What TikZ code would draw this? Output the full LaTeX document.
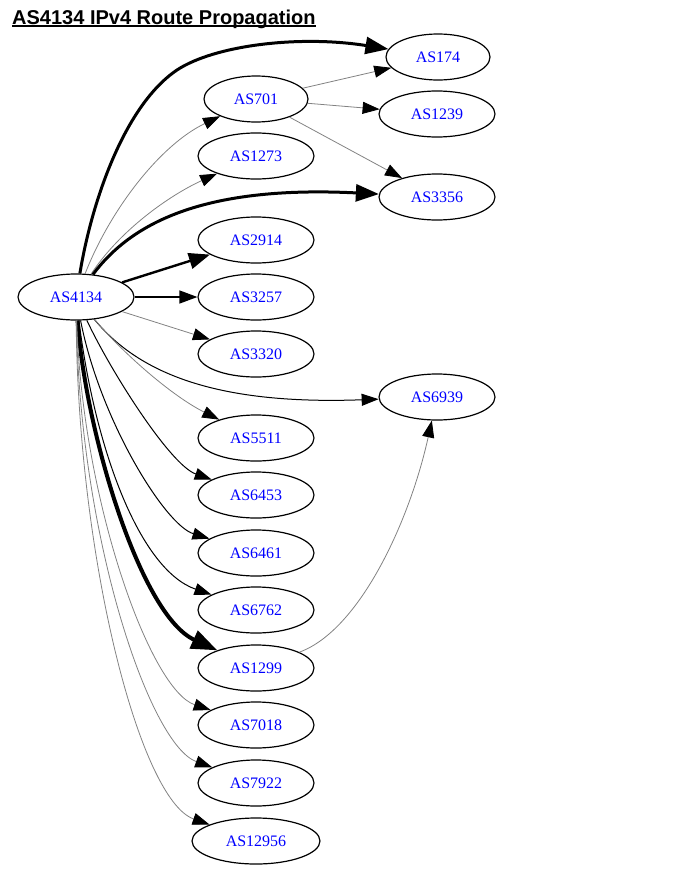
\documentclass[tikz,border=0pt]{standalone}
\usepackage{fontspec}
\setmainfont{Liberation Serif}
\newfontfamily\titlefont{Liberation Sans}
\usetikzlibrary{shapes.geometric,arrows.meta}
\definecolor{asblue}{RGB}{0,0,255}
\definecolor{edgegray}{RGB}{130,130,130}
\tikzset{
  asnode/.style={draw=black, line width=1.2bp, ellipse, inner sep=0pt,
    minimum height=46bp, minimum width=116bp, text=asblue,
    font=\fontsize{16bp}{18bp}\selectfont},
  narrow/.style={minimum width=104bp},
  wide/.style={minimum width=128bp},
  gedge/.style={draw=edgegray, line width=0.8bp,
    -{Triangle[length=17bp,width=12bp,color=black]}},
  bedge/.style={draw=black, line width=1bp,
    -{Triangle[length=17bp,width=12bp]}},
  medge/.style={draw=black, line width=1.4bp,
    -{Triangle[length=18bp,width=13bp]}},
  tedge/.style={draw=black, line width=2.4bp,
    -{Triangle[length=21bp,width=16bp]}},
  hedge/.style={draw=black, line width=3bp,
    -{Triangle[length=23bp,width=17bp]}},
  xedge/.style={draw=black, line width=4bp,
    -{Triangle[length=26bp,width=19bp]}},
}
\begin{document}
\begin{tikzpicture}[x=1bp,y=-1bp]
\useasboundingbox (0,0) rectangle (687,880);
% title
\node[anchor=base west, inner sep=0pt] (title) at (12,24)
  {\titlefont\bfseries\fontsize{20bp}{24bp}\selectfont AS4134 IPv4 Route Propagation};
\draw[line width=1.8bp] ([yshift=-1.8bp]title.base west) -- ([yshift=-1.8bp]title.base east);
% nodes
\node[asnode] (n4134) at (76,297) {AS4134};
\node[asnode,narrow] (n701) at (256,99) {AS701};
\node[asnode,narrow] (n174) at (438,57) {AS174};
\node[asnode] (n1239) at (437,114) {AS1239};
\node[asnode] (n1273) at (256,156) {AS1273};
\node[asnode] (n3356) at (437,197) {AS3356};
\node[asnode] (n2914) at (256,240) {AS2914};
\node[asnode] (n3257) at (256,297) {AS3257};
\node[asnode] (n3320) at (256,354) {AS3320};
\node[asnode] (n6939) at (437,397) {AS6939};
\node[asnode] (n5511) at (256,438) {AS5511};
\node[asnode] (n6453) at (256,495) {AS6453};
\node[asnode] (n6461) at (256,553) {AS6461};
\node[asnode] (n6762) at (256,610) {AS6762};
\node[asnode] (n1299) at (256,668) {AS1299};
\node[asnode] (n7018) at (256,725) {AS7018};
\node[asnode] (n7922) at (256,783) {AS7922};
\node[asnode,wide] (n12956) at (256,841) {AS12956};
% edges from AS4134
\draw[hedge] (n4134) .. controls (92,200) and (125,105) .. (177,70)
  .. controls (215,45) and (300,35) .. (n174);
\draw[gedge] (n4134) .. controls (110,210) and (160,145) .. (n701);
\draw[gedge] (n4134) .. controls (120,230) and (170,195) .. (n1273);
\draw[hedge] (n4134) .. controls (130,225) and (200,185) .. (n3356);
\draw[tedge] (n4134) -- (n2914);
\draw[medge] (n4134) -- (n3257);
\draw[gedge] (n4134) -- (n3320);
\draw[bedge] (n4134) .. controls (140,375) and (220,405) .. (n6939);
\draw[gedge] (n4134) .. controls (120,350) and (170,395) .. (n5511);
\draw[bedge] (n4134) .. controls (110,370) and (170,465) .. (n6453);
\draw[bedge] (n4134) .. controls (100,420) and (165,525) .. (n6461);
\draw[bedge] (n4134) .. controls (95,450) and (140,570) .. (n6762);
\draw[xedge] (n4134) .. controls (85,430) and (140,615) .. (n1299);
\draw[gedge] (n4134) .. controls (82,500) and (150,690) .. (n7018);
\draw[gedge] (n4134) .. controls (80,540) and (150,745) .. (n7922);
\draw[gedge] (n4134) .. controls (78,560) and (140,800) .. (n12956);
% other edges
\draw[gedge] (n701) -- (n174);
\draw[gedge] (n701) -- (n1239);
\draw[gedge] (n701) -- (n3356);
\draw[gedge] (n1299) .. controls (360,630) and (410,520) .. (n6939);
\end{tikzpicture}
\end{document}
